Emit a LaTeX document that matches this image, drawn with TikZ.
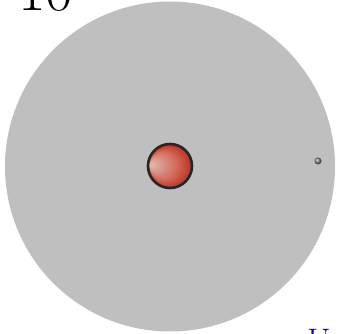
\documentclass[tikz,border=0pt]{standalone}
\usepackage{tikz}
\definecolor{discgray}{RGB}{191,191,191}
\definecolor{coreHi}{RGB}{222,180,170}
\definecolor{coreMid}{RGB}{210,105,90}
\definecolor{coreRed}{RGB}{188,48,32}
\definecolor{labelnavy}{RGB}{10,10,150}
\pgfdeclareradialshading{corelit}{\pgfpoint{-24bp}{2bp}}{%
  color(0bp)=(coreHi); color(2bp)=(coreHi); color(16bp)=(coreMid); color(25bp)=(coreRed)}

\begin{document}
\begin{tikzpicture}[x=1pt, y=-1pt,
        disc/.style={circle, fill=discgray, minimum size=330pt, inner sep=0pt},
        core/.style={circle, draw=black!85, line width=2.6pt, shading=corelit, minimum size=44pt, inner sep=0pt},
        speck/.style={circle, ball color=black!50, minimum size=7pt, inner sep=0pt},
        bigtxt/.style={font=\fontsize{60}{64}\selectfont, anchor=base, inner sep=0pt}
    ]
    \useasboundingbox (0,0) rectangle (338,334);
    \node[disc] (d) at (170,166.5) {};
    \node[core] (c) at (170,166) {};
    \node[speck] (s) at (318,161) {};
    \node[bigtxt] (n) at (46,11) {10};
    \node[bigtxt, text=labelnavy, font=\fontsize{34}{38}\selectfont] (u) at (319,353) {U};
    \end{tikzpicture}
\end{document}
